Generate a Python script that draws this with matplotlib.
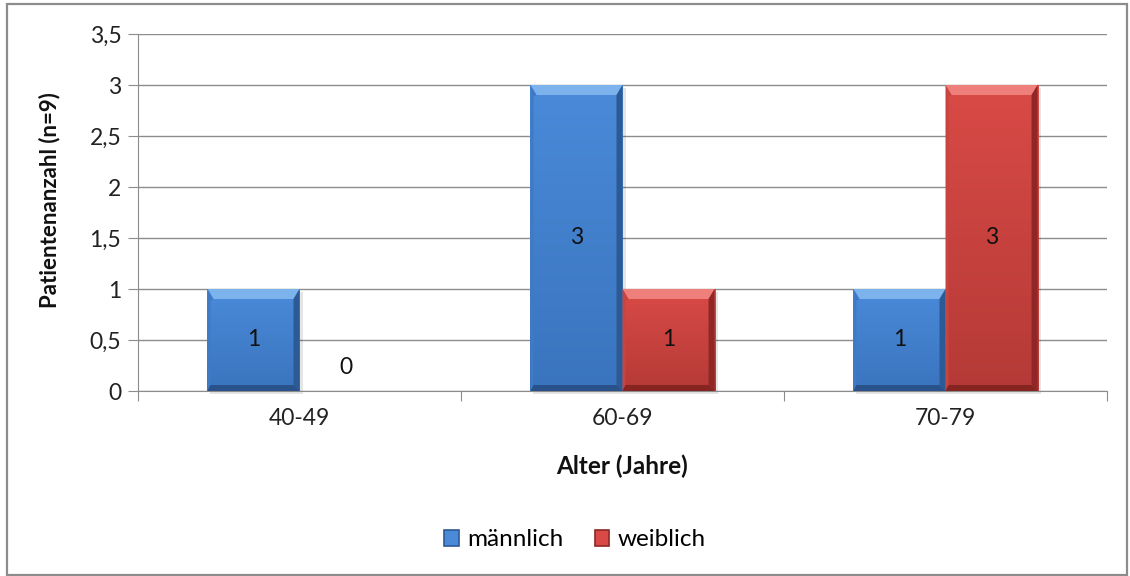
import matplotlib
matplotlib.use("Agg")
import matplotlib.pyplot as plt
from matplotlib.patches import Polygon, Rectangle, Patch
from matplotlib.colors import to_rgb
import numpy as np

categories = ["40-49", "60-69", "70-79"]
maennlich = [1, 3, 1]
weiblich = [0, 1, 3]
series_names = ["männlich", "weiblich"]
yticks = [0, 0.5, 1, 1.5, 2, 2.5, 3, 3.5]
ytick_labels = ["0", "0,5", "1", "1,5", "2", "2,5", "3", "3,5"]

plt.rcParams['font.family'] = ['Lato', 'DejaVu Sans']
FS = 16.5
FSB = 17.5
FSY = 16
FSL = 17.5

W, H = 1130, 576
fig = plt.figure(figsize=(W / 100, H / 100), dpi=100)
fig.patch.set_facecolor("white")
# outer frame
fig.add_artist(Rectangle((6.5 / W, 1 / H), (1127 - 6.5) / W, (H - 5) / H, transform=fig.transFigure,
                         fill=False, edgecolor="#8c8c8c", linewidth=1.6))

left, right, top, bottom = 138, 1107, 34, 391
ax = fig.add_axes([left / W, 1 - bottom / H, (right - left) / W, (bottom - top) / H])
ax.set_xlim(-0.5, 2.5)
ax.set_ylim(0, 3.5)

for s in ["top", "right"]:
    ax.spines[s].set_visible(False)
ax.spines["left"].set_color("#8c8c8c")
ax.spines["bottom"].set_color("#8c8c8c")
ax.set_yticks(yticks)
ax.set_yticklabels(ytick_labels, fontsize=FS, color="#222222")
ax.yaxis.grid(True, color="#8c8c8c", linewidth=1.0)
ax.set_axisbelow(True)
ax.tick_params(axis="y", length=7, color="#8c8c8c", pad=5)
x = np.arange(len(categories))
ax.set_xticks([-0.5, 0.5, 1.5, 2.5])
ax.set_xticklabels([])
ax.set_xticks(x, minor=True)
ax.set_xticklabels(categories, minor=True, fontsize=FS, color="#222222")
ax.tick_params(axis="x", which="major", length=7, color="#8c8c8c")
ax.tick_params(axis="x", which="minor", length=0, pad=12)

bw = 0.285
styles = [
    dict(face_top="#4a8ad8", face_bot="#3a74bf", top="#7db3ec", left="#3f7ac6", right="#2c5a94",
         bottom="#29528a", edge="#2c5a94"),
    dict(face_top="#d94a46", face_bot="#b53a37", top="#ef7f7b", left="#c84440", right="#8e2725",
         bottom="#862422", edge="#8e2725"),
]

px_x = (right - left) / 3.0   # pixels per data unit x
px_y = (bottom - top) / 3.5   # pixels per data unit y


def bevel(ax, x0, x1, y0, y1, st):
    bt = 10 / px_y
    bs = 6 / px_x
    bl = 3 / px_x
    bb = 6 / px_y
    # shadow
    ax.add_patch(Rectangle((x0 + 3 / px_x, y0 - 3 / px_y), x1 - x0, y1 - y0, facecolor="#000000",
                           alpha=0.10, edgecolor="none", zorder=2, clip_on=False))
    c0 = np.array(to_rgb(st["face_bot"]))
    c1 = np.array(to_rgb(st["face_top"]))
    t = np.linspace(0, 1, 64)[:, None]
    grad = (c0 * (1 - t) + c1 * t)[:, None, :]
    ax.imshow(grad, extent=(x0, x1, y0, y1), origin="lower", aspect="auto", zorder=3,
              interpolation="bilinear")
    ax.add_patch(Polygon([(x0, y1), (x1, y1), (x1 - bs, y1 - bt), (x0 + bs, y1 - bt)],
                         facecolor=st["top"], edgecolor="none", zorder=4))
    ax.add_patch(Polygon([(x0, y0), (x0, y1), (x0 + bs, y1 - bt), (x0 + bl, y1 - bt - 2 / px_y),
                          (x0 + bl, y0 + bb)],
                         facecolor=st["left"], edgecolor="none", zorder=4))
    ax.add_patch(Polygon([(x1, y0), (x1, y1), (x1 - bs, y1 - bt), (x1 - bs, y0 + bb)],
                         facecolor=st["right"], edgecolor="none", zorder=4))
    ax.add_patch(Polygon([(x0, y0), (x1, y0), (x1 - bs, y0 + bb), (x0 + bl, y0 + bb)],
                         facecolor=st["bottom"], edgecolor="none", zorder=4))


for i, (vals, st) in enumerate(zip([maennlich, weiblich], styles)):
    offs = (i - 0.5) * bw
    bars = ax.bar(x + offs, vals, bw, color=st["face_top"], zorder=3)
    for b, v in zip(bars, vals):
        xb = b.get_x()
        if v > 0:
            bevel(ax, xb, xb + bw, 0, v, st)
            ax.text(xb + bw / 2, v / 2, str(v), ha="center", va="center", fontsize=FS,
                    color="#111111", zorder=6)
        else:
            ax.text(xb + bw / 2, 0.23, str(v), ha="center", va="center", fontsize=FS,
                    color="#111111", zorder=6)
ax.set_xlim(-0.5, 2.5)
ax.set_ylim(0, 3.5)

ax.set_ylabel("Patientenanzahl (n=9)", fontsize=FSY, fontweight="bold", color="#111111")
ax.yaxis.set_label_coords(-(138 - 60) / (right - left), (391 - 200) / (391 - 34))
fig.text(622 / W, 1 - 466 / H, "Alter (Jahre)", ha="center", va="center", fontsize=FSB,
         fontweight="bold", color="#111111")

handles = [Patch(facecolor=styles[0]["face_top"], edgecolor=styles[0]["edge"], linewidth=1.2),
           Patch(facecolor=styles[1]["face_top"], edgecolor=styles[1]["edge"], linewidth=1.2)]
fig.legend(handles, series_names, loc="center", bbox_to_anchor=(575 / W, 1 - 540 / H), ncol=2,
           frameon=False, fontsize=FSL, handlelength=0.6, handleheight=0.6, handletextpad=0.35,
           columnspacing=1.3)

fig.savefig("out.png", dpi=100, facecolor="white")
